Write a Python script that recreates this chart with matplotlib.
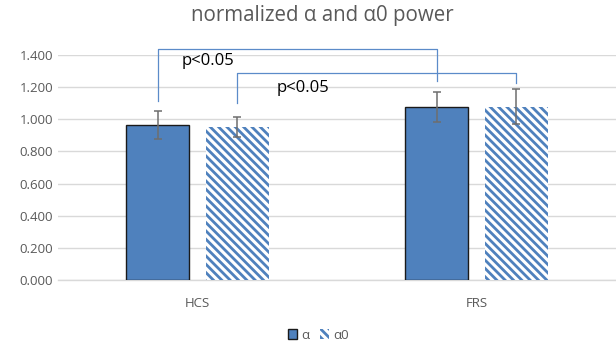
import numpy as np
import matplotlib.pyplot as plt
from matplotlib.patches import Patch

plt.rcParams['font.family'] = ['Open Sans', 'DejaVu Sans']
plt.rcParams['hatch.linewidth'] = 2.0

# data
groups = ['HCS', 'FRS']
alpha = [0.965, 1.078]
alpha_err = [0.087, 0.094]
alpha0 = [0.950, 1.078]
alpha0_err = [0.063, 0.110]
yticks = [0.0, 0.2, 0.4, 0.6, 0.8, 1.0, 1.2, 1.4]

# significance brackets: (left bar low end, top, right bar low end)
br1 = [1.116, 1.437, 1.240]
br2 = [1.100, 1.290, 1.228]
sig_txt = ['p<0.05', 'p<0.05']

blue = '#4F81BD'
gray = '#595959'
hatch = '\\\\\\\\'

fig = plt.figure(figsize=(6.16, 3.44), dpi=100)
ax = fig.add_axes([0.094, 0.186, 0.906, 0.654])

x = np.arange(len(groups))
w = 0.226
off = 0.143

ax.bar(x - off, alpha, w, color=blue, edgecolor='#1a1a1a', linewidth=1.0, zorder=3)
ax.bar(x + off, alpha0, w, color='white', edgecolor=blue, hatch=hatch, linewidth=0, zorder=3)
ax.errorbar(x - off, alpha, yerr=alpha_err, fmt='none', ecolor='#6e6e6e',
            elinewidth=1.1, capsize=3.2, capthick=1.1, zorder=4)
ax.errorbar(x + off, alpha0, yerr=alpha0_err, fmt='none', ecolor='#6e6e6e',
            elinewidth=1.1, capsize=3.2, capthick=1.1, zorder=4)

ax.set_xlim(-0.5, 1.5)
ax.set_ylim(0, 1.4)
ax.set_yticks(yticks)
ax.set_yticklabels(['%.3f' % v for v in yticks])
ax.set_xticks(x)
ax.set_xticklabels(groups)
ax.tick_params(axis='both', length=0, colors=gray, labelsize=9.5)
ax.tick_params(axis='x', pad=12)
ax.grid(axis='y', color='#D9D9D9', linewidth=1.0, zorder=0)
for s in ['top', 'right', 'left']:
    ax.spines[s].set_visible(False)
ax.spines['bottom'].set_color('#D9D9D9')
ax.spines['bottom'].set_linewidth(1.0)

# brackets
bl = '#5B8BC9'
xa1, xb1 = x[0] - off, x[1] - off
ax.plot([xa1, xa1, xb1, xb1], [br1[0], br1[1], br1[1], br1[2]], color=bl, lw=0.9, clip_on=False, zorder=5)
xa2, xb2 = x[0] + off, x[1] + off
ax.plot([xa2, xa2, xb2, xb2], [br2[0], br2[1], br2[1], br2[2]], color=bl, lw=0.9, clip_on=False, zorder=5)
ax.text(xa1 + 0.087, 1.36, sig_txt[0], fontsize=12, va='center', ha='left', color='black')
ax.text(xa2 + 0.14, 1.195, sig_txt[1], fontsize=12, va='center', ha='left', color='black')

fig.text(0.523, 0.955, 'normalized α and α0 power', ha='center', va='center', fontsize=14.8, color=gray)

handles = [Patch(facecolor=blue, edgecolor='#1a1a1a', linewidth=1.0),
           Patch(facecolor='white', edgecolor=blue, hatch=hatch, linewidth=0)]
fig.legend(handles, ['α', 'α0'], loc='center', bbox_to_anchor=(0.517, 0.026), ncol=2,
           frameon=False, fontsize=9.5, handlelength=0.7, handleheight=0.7,
           handletextpad=0.3, columnspacing=0.8, labelcolor=gray)

fig.savefig('out.png', dpi=100)
